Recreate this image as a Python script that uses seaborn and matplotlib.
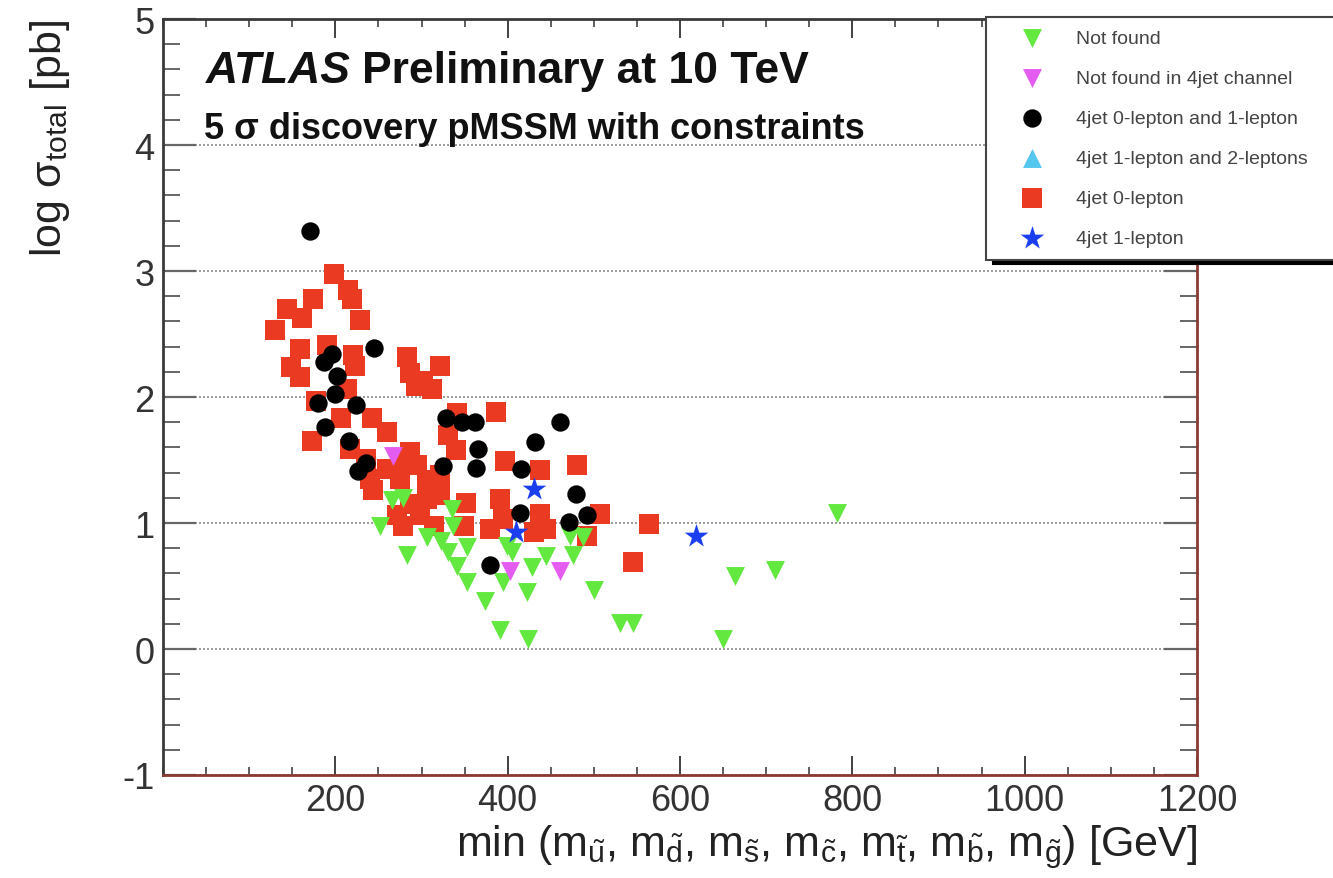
import matplotlib
matplotlib.use("Agg")
import matplotlib.pyplot as plt
import seaborn as sns
from matplotlib.ticker import MultipleLocator, FixedLocator

sns.set_style("ticks")
plt.rcParams['font.family'] = ['Liberation Sans', 'DejaVu Sans']
plt.rcParams['mathtext.fontset'] = 'custom'
plt.rcParams['mathtext.rm'] = 'Liberation Sans'
plt.rcParams['mathtext.it'] = 'Liberation Sans:italic'
plt.rcParams['mathtext.bf'] = 'Liberation Sans:bold'
plt.rcParams['mathtext.sf'] = 'Liberation Sans'
plt.rcParams['axes.unicode_minus'] = False

# ---------------- data ----------------
notfound_x = [252, 266, 279, 283, 306, 323, 335, 337, 331, 353, 341, 353, 374, 391, 424,
              395, 399, 405, 422, 428, 445, 476, 472, 488, 500, 530, 545, 650, 664, 710, 782]
notfound_y = [0.98, 1.18, 1.20, 0.75, 0.89, 0.86, 1.11, 0.98, 0.77, 0.81, 0.66, 0.53, 0.38, 0.15, 0.08,
              0.53, 0.82, 0.77, 0.45, 0.65, 0.74, 0.75, 0.90, 0.89, 0.47, 0.21, 0.21, 0.08, 0.58, 0.63, 1.08]

nf4jet_x = [267, 403, 461]
nf4jet_y = [1.53, 0.62, 0.62]

j01_x = [171, 180, 187, 188, 196, 200, 202, 216, 224, 226, 236, 245, 325, 329, 347, 362,
         363, 365, 380, 414, 415, 432, 461, 471, 479, 492]
j01_y = [3.32, 1.95, 2.28, 1.76, 2.34, 2.02, 2.17, 1.65, 1.94, 1.41, 1.48, 2.39, 1.45, 1.83, 1.80, 1.80,
         1.44, 1.59, 0.67, 1.08, 1.43, 1.64, 1.80, 1.01, 1.23, 1.06]

j12_x = []
j12_y = []

j0_x = [130, 144, 149, 159, 159, 161, 173, 174, 178, 190, 198, 207, 213, 215, 217, 219,
        221, 223, 229, 236, 240, 242, 244, 260, 260, 271, 275, 277, 279, 283, 287, 287,
        287, 294, 295, 298, 302, 306, 306, 312, 314, 321, 321, 322, 331, 340, 341, 349,
        352, 380, 387, 391, 395, 397, 430, 437, 438, 445, 480, 492, 507, 546, 564]
j0_y = [2.53, 2.70, 2.24, 2.38, 2.16, 2.63, 1.65, 2.78, 1.97, 2.41, 2.98, 1.83, 2.06, 2.85, 1.59, 2.78,
        2.33, 2.25, 2.61, 1.51, 1.35, 1.83, 1.26, 1.72, 1.43, 1.06, 1.35, 1.50, 0.98, 2.32, 2.19, 1.56,
        1.15, 2.09, 1.46, 1.06, 2.13, 1.34, 1.19, 2.06, 0.98, 2.25, 1.22, 1.38, 1.70, 1.58, 1.87, 0.98,
        1.16, 0.95, 1.88, 1.19, 1.03, 1.49, 0.93, 1.42, 1.07, 0.95, 1.46, 0.90, 1.07, 0.69, 0.99]

j1_x = [430, 410, 618]
j1_y = [1.27, 0.93, 0.90]

labels = ["Not found", "Not found in 4jet channel", "4jet 0-lepton and 1-lepton",
          "4jet 1-lepton and 2-leptons", "4jet 0-lepton", "4jet 1-lepton"]
x_ticks = [200, 400, 600, 800, 1000, 1200]
y_ticks = [-1, 0, 1, 2, 3, 4, 5]

c_green = '#62e83e'
c_magenta = '#e45cf0'
c_black = '#000000'
c_cyan = '#55c6ee'
c_red = '#ea3b22'
c_blue = '#1b3ff0'

# ---------------- figure ----------------
W, H = 1333, 879
fig = plt.figure(figsize=(W / 100, H / 100), dpi=100)
fig.patch.set_facecolor('white')
ax = fig.add_axes([163 / W, 1 - 776 / H, (1197 - 163) / W, (776 - 20) / H])
ax.set_facecolor('white')

sns.scatterplot(x=j0_x, y=j0_y, ax=ax, marker='s', color=c_red, s=205, linewidth=0,
                label=labels[4], zorder=3)
sns.scatterplot(x=notfound_x, y=notfound_y, ax=ax, marker='v', color=c_green, s=185, linewidth=0,
                label=labels[0], zorder=4)
sns.scatterplot(x=nf4jet_x, y=nf4jet_y, ax=ax, marker='v', color=c_magenta, s=185, linewidth=0,
                label=labels[1], zorder=5)
sns.scatterplot(x=j01_x, y=j01_y, ax=ax, marker='o', color=c_black, s=175, linewidth=0,
                label=labels[2], zorder=6)
ax.scatter(j12_x, j12_y, marker='^', color=c_cyan, s=185, linewidths=0, label=labels[3], zorder=6)
sns.scatterplot(x=j1_x, y=j1_y, ax=ax, marker='*', color=c_blue, s=320, linewidth=0,
                label=labels[5], zorder=7)

ax.set_xlim(0, 1200)
ax.set_ylim(-1, 5)
ax.xaxis.set_major_locator(FixedLocator(x_ticks))
ax.xaxis.set_minor_locator(MultipleLocator(50))
ax.yaxis.set_major_locator(FixedLocator(y_ticks))
ax.yaxis.set_minor_locator(MultipleLocator(0.2))
ax.set_xticklabels([str(v) for v in x_ticks])
ax.set_yticklabels([str(v) for v in y_ticks])

for s in ['left', 'top']:
    ax.spines[s].set_color('#3a3a3a')
for s in ['bottom', 'right']:
    ax.spines[s].set_color('#8b3a33')
for s in ax.spines.values():
    s.set_linewidth(2)

ax.tick_params(axis='x', which='major', direction='in', length=14, width=1.3, top=True, bottom=True,
               labelsize=26, labelcolor='#333333', color='#333333', pad=6)
ax.tick_params(axis='x', which='minor', direction='in', length=6, width=1.1, top=True, bottom=True,
               color='#333333')
ax.tick_params(axis='y', which='major', direction='in', length=24, width=1.6, left=True, right=True,
               labelsize=26, labelcolor='#333333', color='#666666', pad=6)
ax.tick_params(axis='y', which='minor', direction='in', length=12, width=1.4, left=True, right=True,
               color='#666666')

ax.set_axisbelow(True)
ax.grid(axis='y', which='major', linestyle=(0, (1.2, 1.2)), color='#8a8a8a', linewidth=1.2)
ax.grid(axis='x', visible=False)

xlabel = ('min (m$_{\\tilde{\\mathrm{u}}}$, m$_{\\tilde{\\mathrm{d}}}$, m$_{\\tilde{\\mathrm{s}}}$, '
          'm$_{\\tilde{\\mathrm{c}}}$, m$_{\\tilde{\\mathrm{t}}}$, m$_{\\tilde{\\mathrm{b}}}$, '
          'm$_{\\tilde{\\mathrm{g}}}$) [GeV]')
ax.set_xlabel(xlabel, fontsize=31, color='#222222', loc='right')
ax.xaxis.set_label_coords(1.0, (776 - 823) / 756)
ax.set_ylabel('log σ$_{\\mathrm{total}}$ [pb]', fontsize=31, color='#222222', loc='top')
ax.yaxis.set_label_coords((72 - 163) / 1034, 1.0)

# legend
h, l = ax.get_legend_handles_labels()
hd = dict(zip(l, h))
if ax.get_legend() is not None:
    ax.get_legend().remove()
leg = fig.legend([hd[k] for k in labels], labels, loc='upper left',
                 bbox_to_anchor=(986 / W, 1 - 18 / H, (1350 - 986) / W, 0), mode='expand',
                 borderaxespad=0, fontsize=14, labelspacing=1.16, borderpad=0.62,
                 handlelength=3.5, handletextpad=0.5, frameon=True, fancybox=False,
                 edgecolor='#444444', facecolor='white', framealpha=1,
                 shadow={'ox': 5, 'oy': -3.5, 'color': 'black', 'alpha': 1}, labelcolor='#444444')
leg.get_frame().set_linewidth(1.5)

# header texts
fig.canvas.draw()
r = fig.canvas.get_renderer()
t1 = fig.text(206 / W, 1 - 83 / H, "ATLAS", fontsize=32, fontweight='bold', fontstyle='italic',
              va='baseline', color='#111111')
bb = t1.get_window_extent(renderer=r)
fig.text((bb.x1 + 11) / W, 1 - 83 / H, "Preliminary at 10 TeV", fontsize=32, fontweight='bold',
         va='baseline', color='#111111')
fig.text(204 / W, 1 - 139 / H, "5 σ discovery pMSSM with constraints", fontsize=26, fontweight='bold',
         va='baseline', color='#111111')

fig.savefig('out.png', dpi=100)
